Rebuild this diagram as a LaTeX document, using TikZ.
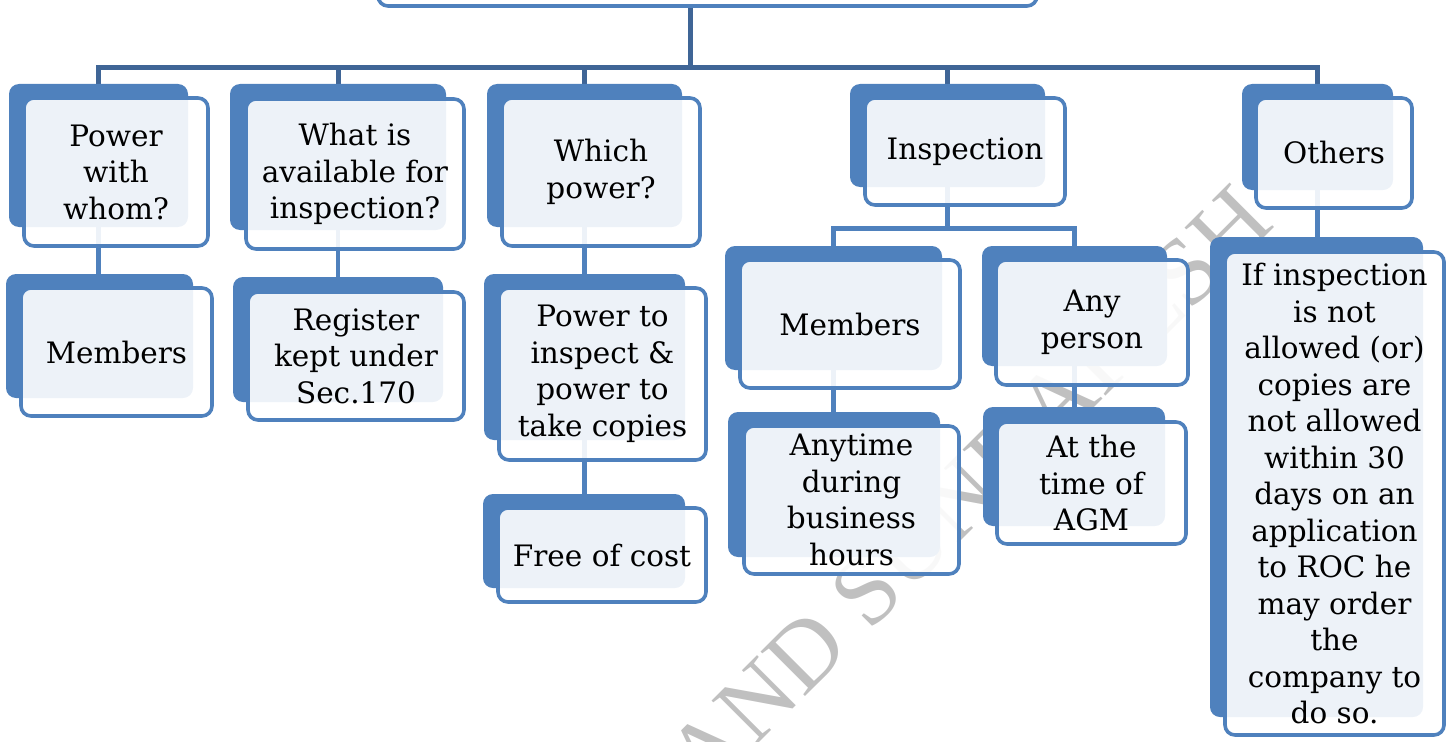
\documentclass[tikz,border=0pt]{standalone}
\usepackage{fontspec}
\setmainfont{DejaVu Serif}
\newfontfamily\wmfont{Liberation Serif}
\definecolor{accent}{RGB}{79,129,189}
\definecolor{busline}{RGB}{63,101,150}
\definecolor{wmgray}{RGB}{192,192,192}
\pgfdeclarelayer{wm}
\pgfdeclarelayer{lines}
\pgfsetlayers{wm,lines,main}
\tikzset{
  backplate/.style={fill=accent, rounded corners=10pt, inner sep=0pt},
  frontcard/.style={draw=accent, line width=3.6pt, fill=white, fill opacity=0.9,
    text opacity=1, rounded corners=10pt, inner sep=0pt, align=center,
    font=\fontsize{29.5}{36.5}\selectfont},
  trunk/.style={draw=busline, line width=5pt},
  twig/.style={draw=accent, line width=4.5pt},
}
% a box given by its corners: style, name, x1, y1, x2, y2, text
\newcommand\placebox[7]{%
  \node[#1, minimum width={(#5-#3)*1pt}, minimum height={(#6-#4)*1pt}]
    (#2) at ({(#3+#5)/2},{(#4+#6)/2}) {#7};}
\begin{document}
\begin{tikzpicture}[x=1pt,y=-1pt]
\useasboundingbox (0,0) rectangle (1455,741);

% root card (only its lower edge shows)
\placebox{frontcard}{root}{378}{-60}{1037}{6}{}

% first tier
\placebox{backplate}{s1}{9}{84}{188}{227}{}
\placebox{frontcard}{f1}{24}{98}{208}{246}{Power\\with\\whom?}
\placebox{backplate}{s2}{230}{84}{446}{230}{}
\placebox{frontcard}{f2}{246}{99}{464}{249}{What is\\available for\\inspection?}
\placebox{backplate}{s3}{487}{84}{682}{227}{}
\placebox{frontcard}{f3}{502}{98}{700}{246}{Which\\power?}
\placebox{backplate}{s4}{850}{84}{1045}{187}{}
\placebox{frontcard}{f4}{865}{98}{1065}{205}{Inspection}
\placebox{backplate}{s5}{1242}{84}{1393}{190}{}
\placebox{frontcard}{f5}{1256}{98}{1412}{208}{Others}

% second tier
\placebox{backplate}{s1a}{6}{274}{193}{398}{}
\placebox{frontcard}{f1a}{21}{288}{212}{416}{Members}
\placebox{backplate}{s2a}{233}{277}{443}{402}{}
\placebox{frontcard}{f2a}{248}{292}{464}{420}{Register\\kept under\\Sec.170}
\placebox{backplate}{s3a}{484}{274}{685}{440}{}
\placebox{frontcard}{f3a}{499}{288}{706}{460}{Power to\\inspect \&\\power to\\take copies}
\placebox{backplate}{s3b}{483}{494}{685}{588}{}
\placebox{frontcard}{f3b}{498}{508}{706}{602}{Free of cost}
\placebox{backplate}{s4a}{725}{246}{942}{370}{}
\placebox{frontcard}{f4a}{740}{260}{960}{388}{Members}
\placebox{backplate}{s4c}{728}{412}{940}{557}{}
\placebox{frontcard}{f4c}{744}{426}{959}{574}{Anytime\\during\\business\\hours}
\placebox{backplate}{s4b}{982}{246}{1167}{366}{}
\placebox{frontcard}{f4b}{996}{260}{1188}{385}{Any\\person}
\placebox{backplate}{s4d}{983}{407}{1165}{526}{}
\placebox{frontcard}{f4d}{997}{422}{1186}{544}{At the\\time of\\AGM}
\placebox{backplate}{s5a}{1210}{237}{1423}{717}{}
\placebox{frontcard}{f5a}{1225}{252}{1444}{735}{If inspection\\is not\\allowed (or)\\copies are\\not allowed\\within 30\\days on an\\application\\to ROC he\\may order\\the\\company to\\do so.}

% connectors
\begin{pgfonlayer}{lines}
\coordinate (bus) at (690,67.5);
\coordinate (subbus) at (947.5,228.5);
\draw[trunk] (root.south -| bus) -- (bus);
\draw[trunk] (s1.north) -- (s1.north |- bus) -- (s5.north |- bus) -- (s5.north);
\foreach \n in {s2,s3,s4} \draw[trunk] (\n.north) -- (\n.north |- bus);
\draw[twig] (s1.south) -- (s1.south |- s1a.north);
\draw[twig] (s2.south) -- (s2.south |- s2a.north);
\draw[twig] (s3.south) -- (s3.south |- s3a.north);
\draw[twig] (s3a.south) -- (s3a.south |- s3b.north);
\draw[twig] (s4.south) -- (subbus);
\draw[twig] (s4a.north) -- (s4a.north |- subbus) -- (s4b.north |- subbus) -- (s4b.north);
\draw[twig] (s4a.south) -- (s4a.south |- s4c.north);
\draw[twig] (s4b.south) -- (s4b.south |- s4d.north);
\draw[twig] (s5.south) -- (s5.south |- s5a.north);
\end{pgfonlayer}

% watermark
\begin{pgfonlayer}{wm}
\node[rotate=45, anchor=base east, text=wmgray, inner sep=0pt,
  font=\wmfont\fontsize{96}{96}\selectfont] (mark) at (1277,225) {ANAND SUNDARESH};
\end{pgfonlayer}
\end{tikzpicture}
\end{document}
